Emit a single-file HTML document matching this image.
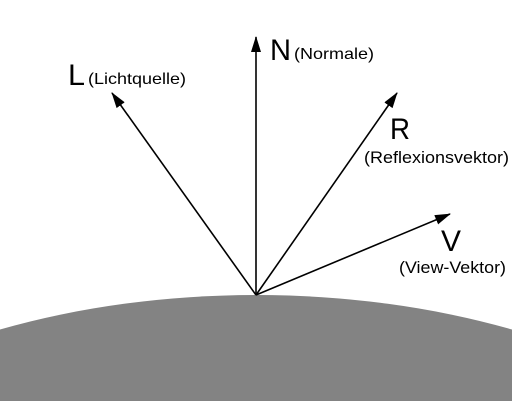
<!DOCTYPE html>
<html><head><meta charset="utf-8"><style>
html,body{margin:0;padding:0;background:#fff;width:512px;height:401px;overflow:hidden}
svg{display:block;overflow:hidden;font-family:"Liberation Sans",Arial,sans-serif}
</style></head><body>
<svg width="512" height="401" viewBox="0 0 512 401">
<defs>
<marker id="ahb" markerWidth="16" markerHeight="10" refX="15" refY="5" orient="auto" markerUnits="userSpaceOnUse" viewBox="0 0 16 10">
<path d="M0,0 L16,5 L0,10 Z" fill="#000"/>
</marker>
</defs>
<path d="M0,329.5 A550,300 0 0 1 512,329.5 L512,401 L0,401 Z" fill="#838383"/>
<line x1="256" y1="295" x2="256" y2="37" stroke="#000" stroke-width="1.6" marker-end="url(#ahb)"/>
<line x1="256" y1="295" x2="112" y2="93" stroke="#000" stroke-width="1.6" marker-end="url(#ahb)"/>
<line x1="256" y1="295" x2="397" y2="93" stroke="#000" stroke-width="1.6" marker-end="url(#ahb)"/>
<line x1="256" y1="295" x2="450" y2="214" stroke="#000" stroke-width="1.6" marker-end="url(#ahb)"/>
<text x="68" y="85" font-size="30" textLength="17" lengthAdjust="spacingAndGlyphs">L</text>
<text x="88" y="84" font-size="16" textLength="98" lengthAdjust="spacingAndGlyphs">(Lichtquelle)</text>
<text x="270" y="60" font-size="30" textLength="21" lengthAdjust="spacingAndGlyphs">N</text>
<text x="294" y="59" font-size="16" textLength="80" lengthAdjust="spacingAndGlyphs">(Normale)</text>
<text x="390" y="139" font-size="30" textLength="20" lengthAdjust="spacingAndGlyphs">R</text>
<text x="364" y="163" font-size="17" textLength="145" lengthAdjust="spacingAndGlyphs">(Reflexionsvektor)</text>
<text x="441" y="251" font-size="30" textLength="20" lengthAdjust="spacingAndGlyphs">V</text>
<text x="399" y="273" font-size="17" textLength="107" lengthAdjust="spacingAndGlyphs">(View-Vektor)</text>
</svg>
</body></html>
